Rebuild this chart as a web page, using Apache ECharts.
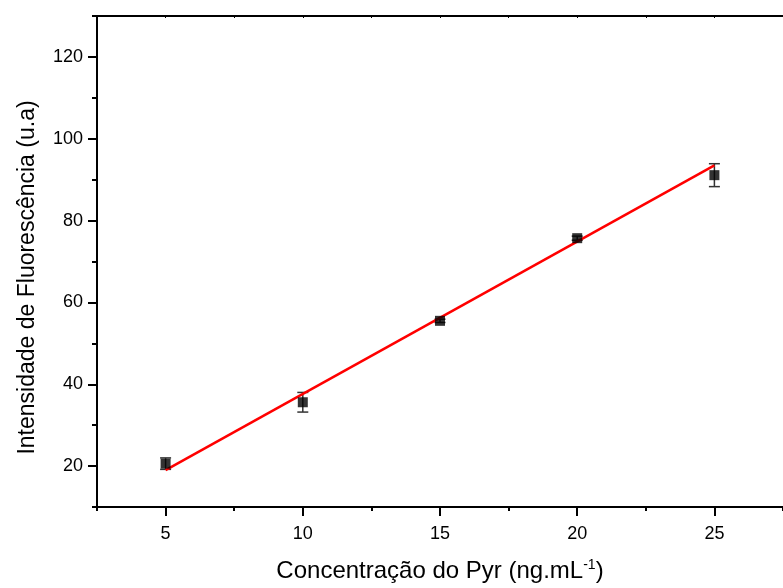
<!DOCTYPE html>
<html>
<head>
<meta charset="utf-8">
<script src="https://cdn.jsdelivr.net/npm/echarts@6/dist/echarts.min.js"></script>
<style>
  html, body { margin: 0; padding: 0; background: #fff; }
  #chart { width: 783px; height: 588px; }
</style>
</head>
<body>
<div id="chart"></div>
<script>
// dados
var concentracao = [5, 10, 15, 20, 25];
var intensidade = [20.6, 35.6, 55.5, 75.7, 91.1];
var erro = [1.4, 2.4, 0.4, 0.5, 2.8];
var ajusteX = [5, 25];
var ajusteY = [19.0, 93.5];
var rotulosX = [5, 10, 15, 20, 25];
var rotulosY = [20, 40, 60, 80, 100, 120];

var myChart = echarts.init(document.getElementById('chart'));
var fonte = 'Liberation Sans, Arial, sans-serif';

var pontos = concentracao.map(function (x, i) { return [x, intensidade[i]]; });
var barras = concentracao.map(function (x, i) { return [x, intensidade[i] - erro[i], intensidade[i] + erro[i]]; });
var reta = ajusteX.map(function (x, i) { return [x, ajusteY[i]]; });

// os ticks da escala caem em 2.5, 7.5...; os rótulos e ticks longos vão nos valores "redondos"
var option = {
  backgroundColor: '#fff',
  animation: false,
  grid: { left: 97, top: 16, width: 696, height: 494, containLabel: false },
  xAxis: [{
    type: 'value',
    min: 2.5,
    max: 27.5,
    interval: 5,
    position: 'bottom',
    name: 'Concentração do Pyr (ng.mL{sup|-1})',
    nameLocation: 'middle',
    nameGap: 51,
    nameTextStyle: {
      fontFamily: fonte, fontSize: 24, color: '#000',
      rich: { sup: { fontFamily: fonte, fontSize: 14, color: '#000', verticalAlign: 'top', padding: [0, 0, 12, 0] } }
    },
    axisLine: { show: true, onZero: false, lineStyle: { color: '#000', width: 2 } },
    axisTick: { show: true, inside: false, length: 4, lineStyle: { color: '#000', width: 2 } },
    minorTick: { show: true, splitNumber: 2, length: 9, lineStyle: { color: '#000', width: 2 } },
    splitLine: { show: false },
    axisLabel: {
      fontFamily: fonte, fontSize: 18, color: '#000', margin: 18,
      customValues: rotulosX
    }
  }, {
    type: 'value',
    min: 2.5,
    max: 27.5,
    interval: 2.5,
    position: 'top',
    axisLine: { show: true, onZero: false, lineStyle: { color: '#000', width: 2 } },
    axisTick: { show: true, inside: true, length: 2, lineStyle: { color: '#000', width: 1 } },
    axisLabel: { show: false },
    splitLine: { show: false }
  }],
  yAxis: {
    type: 'value',
    min: 10,
    max: 130,
    interval: 20,
    name: 'Intensidade de Fluorescência (u.a)',
    nameLocation: 'middle',
    nameGap: 58,
    nameTextStyle: { fontFamily: fonte, fontSize: 23, color: '#000', padding: [0, 32, 0, 0] },
    axisLine: { show: true, onZero: false, lineStyle: { color: '#000', width: 2 } },
    axisTick: { show: true, inside: false, length: 5, lineStyle: { color: '#000', width: 2 } },
    minorTick: { show: true, splitNumber: 2, length: 9, lineStyle: { color: '#000', width: 2 } },
    splitLine: { show: false },
    axisLabel: {
      fontFamily: fonte, fontSize: 18, color: '#000', margin: 14,
      customValues: rotulosY
    }
  },
  series: [
    {
      name: 'erro',
      type: 'custom',
      z: 3,
      data: barras,
      renderItem: function (params, api) {
        var x = api.value(0);
        var p1 = api.coord([x, api.value(1)]);
        var p2 = api.coord([x, api.value(2)]);
        var w = 5.5;
        var estilo = { stroke: '#333', lineWidth: 1.5 };
        return {
          type: 'group',
          children: [
            { type: 'line', shape: { x1: p1[0], y1: p1[1], x2: p2[0], y2: p2[1] }, style: estilo },
            { type: 'line', shape: { x1: p1[0] - w, y1: p1[1], x2: p1[0] + w, y2: p1[1] }, style: estilo },
            { type: 'line', shape: { x1: p2[0] - w, y1: p2[1], x2: p2[0] + w, y2: p2[1] }, style: estilo }
          ]
        };
      }
    },
    {
      name: 'ajuste',
      type: 'line',
      z: 4,
      data: reta,
      symbol: 'none',
      lineStyle: { color: '#ff0000', width: 2.5 }
    },
    {
      name: 'pontos',
      type: 'scatter',
      z: 5,
      data: pontos,
      symbol: 'rect',
      symbolSize: 10,
      itemStyle: { color: '#000' }
    }
  ]
};

myChart.setOption(option);
</script>
</body>
</html>
